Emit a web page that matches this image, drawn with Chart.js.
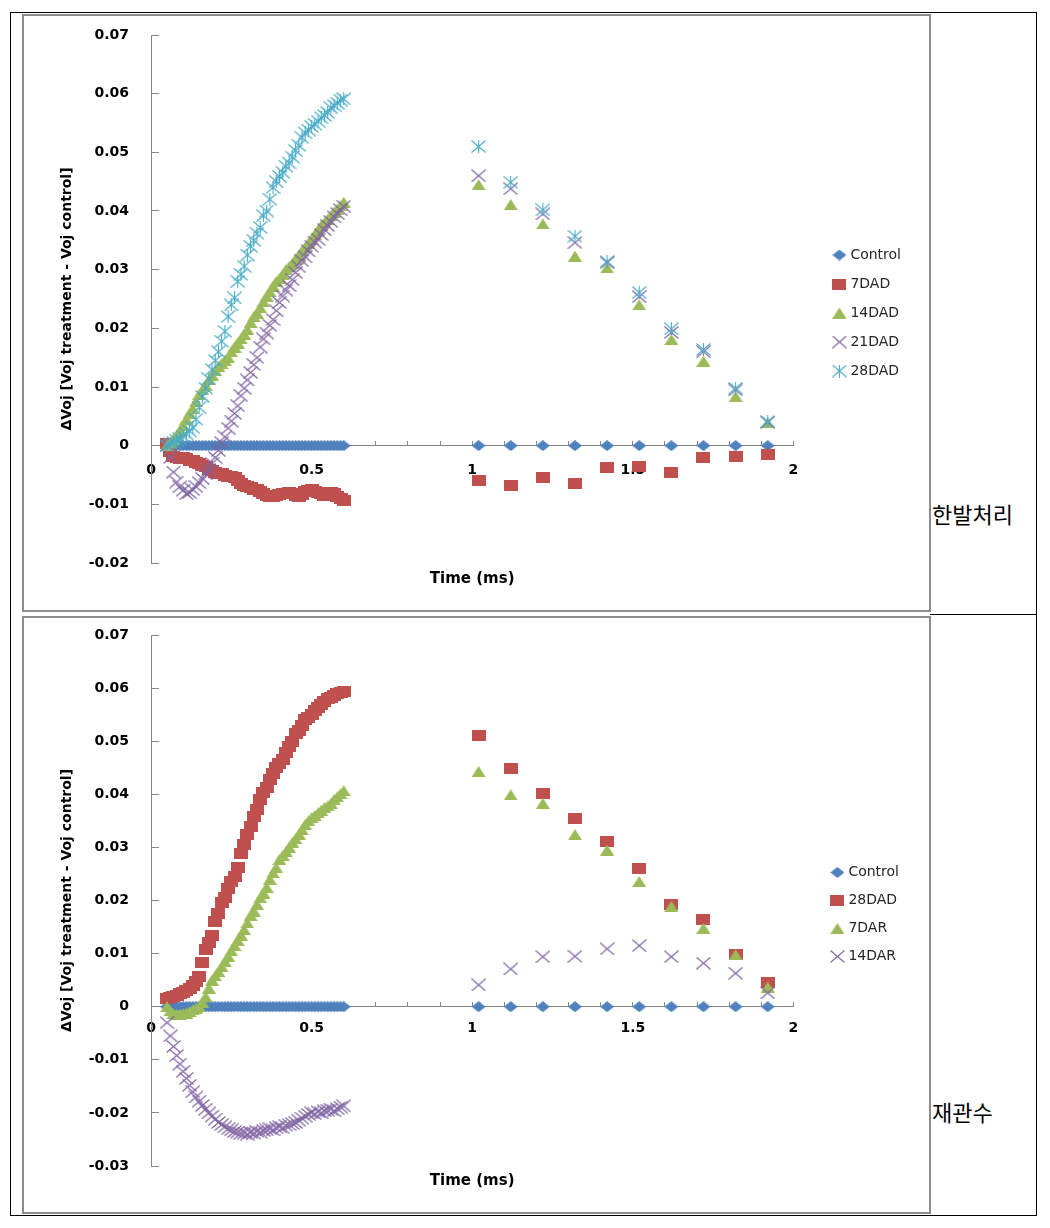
<!DOCTYPE html>
<html>
<head>
<meta charset="utf-8">
<script src="https://cdn.jsdelivr.net/npm/chart.js@4.4.1/dist/chart.umd.min.js"></script>
<style>
  html, body { margin: 0; padding: 0; background: #fff; }
  body { width: 1050px; height: 1228px; position: relative; overflow: hidden; }
  .abs { position: absolute; }
  .frame { position: absolute; border: 2px solid #8c8c8c; box-sizing: border-box; }
  .kor { position: absolute; font-family: "Noto Sans CJK KR", sans-serif; font-size: 22px; line-height: 22px; color: #000; white-space: nowrap; }
</style>
</head>
<body>
<div class="abs" style="left:10px;top:12px;width:1027px;height:1204px;border:1px solid #000;box-sizing:border-box;"></div>
<div class="frame" style="left:22px;top:14px;width:909px;height:598px;"></div>
<div class="frame" style="left:22px;top:616px;width:909px;height:598px;"></div>
<div class="abs" style="left:930px;top:614px;width:106px;height:1px;background:#000;"></div>
<canvas id="c1" class="abs" width="904" height="594" style="left:24px;top:16px;"></canvas>
<canvas id="c2" class="abs" width="904" height="593" style="left:24px;top:618px;"></canvas>
<div class="kor" style="left:932px;top:502px;">한발처리</div>
<div class="kor" style="left:932px;top:1100px;">재관수</div>
<script>
// ---------- time axis (ms) ----------
const timeA = [0.05,0.06,0.07,0.08,0.09,0.10,0.11,0.12,0.13,0.14,0.15,0.16,0.17,0.18,0.19,0.20,0.21,0.22,0.23,0.24,0.25,0.26,0.27,0.28,0.29,0.30,0.31,0.32,0.33,0.34,0.35,0.36,0.37,0.38,0.39,0.40,0.41,0.42,0.43,0.44,0.45,0.46,0.47,0.48,0.49,0.50,0.51,0.52,0.53,0.54,0.55,0.56,0.57,0.58,0.59,0.60];
const timeB = [1.02,1.12,1.22,1.32,1.42,1.52,1.62,1.72,1.82,1.92];

// ---------- chart 1 (한발처리) ----------
const labels1 = ["Control","7DAD","14DAD","21DAD","28DAD"];
const c1ControlA = [0,0,0,0,0,0,0,0,0,0,0,0,0,0,0,0,0,0,0,0,0,0,0,0,0,0,0,0,0,0,0,0,0,0,0,0,0,0,0,0,0,0,0,0,0,0,0,0,0,0,0,0,0,0,0,0];
const c1ControlB = [0,0,0,0,0,0,0,0,0,0];
const c1_7DAD_A = [0.0003,-0.0010,-0.0018,-0.0020,-0.0022,-0.0020,-0.0022,-0.0025,-0.0025,-0.0028,
  -0.0030,-0.0033,-0.0036,-0.0040,-0.0042,-0.0045,-0.0047,-0.0048,-0.0050,-0.0052,
  -0.0053,-0.0055,-0.0060,-0.0065,-0.0068,-0.0070,-0.0072,-0.0074,-0.0075,-0.0078,
  -0.0082,-0.0085,-0.0086,-0.0087,-0.0085,-0.0083,-0.0082,-0.0082,-0.0080,-0.0082,
  -0.0085,-0.0086,-0.0083,-0.0078,-0.0076,-0.0075,-0.0078,-0.0080,-0.0082,-0.0085,
  -0.0082,-0.0080,-0.0082,-0.0086,-0.0090,-0.0093];
const c1_7DAD_B = [-0.0059,-0.0068,-0.0055,-0.0065,-0.0038,-0.0035,-0.0045,-0.0020,-0.0018,-0.0015];
const c1_14DAD_A = [0.0000,0.0005,0.0010,0.0018,0.0025,0.0035,0.0045,0.0055,0.0063,0.0075,
  0.0087,0.0095,0.0103,0.0112,0.0120,0.0128,0.0135,0.0140,0.0145,0.0150,
  0.0160,0.0168,0.0175,0.0182,0.0190,0.0198,0.0210,0.0220,0.0226,0.0235,
  0.0245,0.0255,0.0262,0.0272,0.0280,0.0285,0.0292,0.0300,0.0305,0.0310,
  0.0318,0.0325,0.0332,0.0338,0.0345,0.0352,0.0360,0.0367,0.0375,0.0380,
  0.0386,0.0392,0.0398,0.0403,0.0409,0.0415];
const c1_14DAD_B = [0.0445,0.0411,0.0378,0.0323,0.0303,0.0240,0.0181,0.0144,0.0084,0.0039];
const c1_21DAD_A = [0.0000,-0.0020,-0.0045,-0.0062,-0.0070,-0.0076,-0.0082,-0.0080,-0.0075,-0.0070,
  -0.0063,-0.0056,-0.0048,-0.0040,-0.0030,-0.0020,-0.0008,0.0005,0.0015,0.0030,
  0.0042,0.0055,0.0068,0.0085,0.0098,0.0112,0.0125,0.0138,0.0150,0.0168,
  0.0182,0.0192,0.0205,0.0215,0.0230,0.0244,0.0255,0.0265,0.0273,0.0283,
  0.0295,0.0305,0.0315,0.0322,0.0332,0.0340,0.0347,0.0352,0.0360,0.0368,
  0.0375,0.0382,0.0390,0.0396,0.0402,0.0408];
const c1_21DAD_B = [0.0460,0.0438,0.0395,0.0346,0.0312,0.0254,0.0193,0.0160,0.0095,0.0040];
const c1_28DAD_A = [0.0000,0.0003,0.0006,0.0009,0.0012,0.0016,0.0020,0.0025,0.0031,0.0045,
  0.0065,0.0084,0.0098,0.0114,0.0130,0.0145,0.0160,0.0178,0.0195,0.0220,
  0.0240,0.0252,0.0280,0.0292,0.0306,0.0325,0.0340,0.0350,0.0362,0.0372,
  0.0392,0.0400,0.0420,0.0440,0.0450,0.0459,0.0466,0.0476,0.0482,0.0492,
  0.0503,0.0512,0.0525,0.0533,0.0538,0.0544,0.0548,0.0553,0.0559,0.0563,
  0.0568,0.0576,0.0580,0.0584,0.0589,0.0591];
const c1_28DAD_B = [0.0510,0.0449,0.0402,0.0357,0.0314,0.0261,0.0199,0.0164,0.0098,0.0041];

// ---------- chart 2 (재관수) ----------
const labels2 = ["Control","28DAD","7DAR","14DAR"];
const c2ControlA = [0,0,0,0,0,0,0,0,0,0,0,0,0,0,0,0,0,0,0,0,0,0,0,0,0,0,0,0,0,0,0,0,0,0,0,0,0,0,0,0,0,0,0,0,0,0,0,0,0,0,0,0,0,0,0,0];
const c2ControlB = [0,0,0,0,0,0,0,0,0,0];
const c2_28DAD_A = [0.0015,0.0018,0.0020,0.0022,0.0024,0.0027,0.0030,0.0035,0.0040,0.0048,
  0.0057,0.0083,0.0107,0.0120,0.0135,0.0160,0.0175,0.0196,0.0205,0.0222,
  0.0235,0.0245,0.0262,0.0289,0.0305,0.0325,0.0340,0.0358,0.0372,0.0390,
  0.0403,0.0412,0.0428,0.0440,0.0450,0.0458,0.0465,0.0478,0.0490,0.0500,
  0.0515,0.0520,0.0530,0.0540,0.0545,0.0550,0.0557,0.0563,0.0570,0.0575,
  0.0580,0.0583,0.0587,0.0590,0.0591,0.0593];
const c2_28DAD_B = [0.0510,0.0449,0.0401,0.0355,0.0312,0.0260,0.0193,0.0164,0.0099,0.0045];
const c2_7DAR_A = [0.0000,-0.0008,-0.0013,-0.0015,-0.0014,-0.0013,-0.0012,-0.0009,-0.0006,-0.0003,
  0.0000,0.0008,0.0019,0.0035,0.0050,0.0058,0.0066,0.0075,0.0085,0.0095,
  0.0105,0.0115,0.0125,0.0135,0.0145,0.0158,0.0172,0.0180,0.0193,0.0205,
  0.0214,0.0225,0.0240,0.0252,0.0262,0.0277,0.0285,0.0292,0.0300,0.0309,
  0.0316,0.0325,0.0333,0.0343,0.0350,0.0356,0.0360,0.0365,0.0370,0.0375,
  0.0378,0.0383,0.0390,0.0395,0.0401,0.0407];
const c2_7DAR_B = [0.0443,0.0399,0.0383,0.0324,0.0295,0.0236,0.0189,0.0148,0.0098,0.0037];
const c2_14DAR_A = [-0.0030,-0.0055,-0.0075,-0.0092,-0.0108,-0.0122,-0.0135,-0.0148,-0.0160,-0.0170,
  -0.0178,-0.0186,-0.0193,-0.0200,-0.0206,-0.0212,-0.0218,-0.0222,-0.0226,-0.0230,
  -0.0232,-0.0235,-0.0236,-0.0238,-0.0238,-0.0240,-0.0237,-0.0238,-0.0235,-0.0236,
  -0.0233,-0.0232,-0.0230,-0.0232,-0.0228,-0.0226,-0.0228,-0.0224,-0.0222,-0.0220,
  -0.0218,-0.0214,-0.0210,-0.0206,-0.0203,-0.0200,-0.0202,-0.0198,-0.0200,-0.0196,
  -0.0195,-0.0193,-0.0196,-0.0192,-0.0189,-0.0187];
const c2_14DAR_B = [0.0041,0.0071,0.0094,0.0095,0.0109,0.0115,0.0094,0.0082,0.0063,0.0026];

// ---------- axis settings ----------
const xMin = 0, xMax = 2, xStep = 0.1;
const yMax = 0.07, yStep = 0.01;
const y1Min = -0.02, y2Min = -0.03;
const yTitle = "ΔVoj [Voj treatment - Voj control]";
const xTitle = "Time (ms)";

// ---------- styling ----------
const BLUE = '#4F81BD', RED = '#C0504D', GREEN = '#9BBB59', PURPLE = '#8064A2', CYAN = '#4BACC6';
const AXIS = '#868686';

function marker(kind, color) {
  const c = document.createElement('canvas');
  let w = 14, h = 11;
  if (kind === 'x' || kind === 'ast') { w = 15; h = 13; }
  c.width = w; c.height = h;
  const g = c.getContext('2d');
  g.fillStyle = color; g.strokeStyle = color; g.lineWidth = 1.1;
  if (kind === 'diamond') {
    g.beginPath(); g.moveTo(w/2, 0); g.lineTo(w, h/2); g.lineTo(w/2, h); g.lineTo(0, h/2); g.closePath(); g.fill();
  } else if (kind === 'square') {
    g.fillRect(0, 0, w, h);
  } else if (kind === 'triangle') {
    g.beginPath(); g.moveTo(w/2, 0); g.lineTo(w, h); g.lineTo(0, h); g.closePath(); g.fill();
  } else {
    g.beginPath();
    g.moveTo(0.5, 0.5); g.lineTo(w-0.5, h-0.5);
    g.moveTo(w-0.5, 0.5); g.lineTo(0.5, h-0.5);
    if (kind === 'ast') { g.moveTo(w/2, 0); g.lineTo(w/2, h); }
    g.stroke();
  }
  return c;
}

function pts(xs, ys) { return xs.map((x, i) => ({x: x, y: ys[i]})); }

function ds(label, a, b, style, order) {
  return {
    label: label,
    data: pts(timeA, a).concat(pts(timeB, b)),
    pointStyle: style,
    pointRadius: 6,
    pointHoverRadius: 6,
    showLine: false,
    order: order,
    backgroundColor: 'rgba(0,0,0,0)',
    borderColor: 'rgba(0,0,0,0)'
  };
}

Chart.defaults.font.family = "'DejaVu Sans', Verdana, sans-serif";

function yTick(v) { return Math.abs(v) < 1e-9 ? '0' : (Math.round(v * 100) / 100).toFixed(2); }
function xTick(v) { const h = Math.round(v * 2) / 2; return Math.abs(v - h) < 1e-6 ? String(h) : ''; }

function build(canvasId, datasets, yMin, p) {
  return new Chart(document.getElementById(canvasId), {
    type: 'scatter',
    data: { datasets: datasets },
    options: {
      responsive: false, animation: false, devicePixelRatio: 1,
      events: [],
      layout: { padding: { left: 0, right: p.padR, top: 0, bottom: 0 } },
      plugins: {
        legend: {
          position: 'right', align: 'center',
          labels: {
            usePointStyle: true, boxWidth: 8, boxHeight: 8, padding: p.legPad,
            color: '#262626', font: { size: 14 },
            sort: (a, b) => a.datasetIndex - b.datasetIndex
          }
        },
        tooltip: { enabled: false }
      },
      scales: {
        x: {
          type: 'linear', position: { y: 0 }, min: xMin, max: xMax,
          ticks: { stepSize: xStep, autoSkip: false, maxRotation: 0, padding: p.xTickPad, color: '#000', font: { size: 14, weight: 'bold' }, callback: xTick },
          grid: { drawOnChartArea: false, tickLength: -5, tickColor: AXIS, color: AXIS },
          border: { color: AXIS, width: 1 },
          title: { display: true, text: xTitle, color: '#000', font: { size: 15, weight: 'bold' }, padding: { top: 0, bottom: p.xTitlePad } },
          afterFit: s => { s.height = p.xH; s.paddingLeft = 0; s.paddingRight = 0; }
        },
        y: {
          type: 'linear', position: 'left', min: yMin, max: yMax,
          ticks: { stepSize: yStep, padding: 30, color: '#000', font: { size: 14, weight: 'bold' }, callback: yTick },
          grid: { drawOnChartArea: false, tickLength: -8, tickColor: AXIS, color: AXIS },
          border: { color: AXIS, width: 1 },
          title: { display: true, text: yTitle, color: '#000', font: { size: 14, weight: 'bold' }, padding: { top: 34.6, bottom: 0 } },
          afterFit: s => { s.width = 127; s.paddingTop = p.areaTop; s.paddingBottom = p.areaBottom; }
        },
        gap: {
          type: 'linear', position: 'right', display: true,
          ticks: { display: false }, grid: { display: false }, border: { display: false },
          afterFit: s => { s.width = p.gap; s.paddingTop = 0; s.paddingBottom = 0; }
        }
      }
    }
  });
}

const ds1 = [
  ds(labels1[0], c1ControlA, c1ControlB, marker('diamond', BLUE), 5),
  ds(labels1[1], c1_7DAD_A, c1_7DAD_B, marker('square', RED), 4),
  ds(labels1[2], c1_14DAD_A, c1_14DAD_B, marker('triangle', GREEN), 3),
  ds(labels1[3], c1_21DAD_A, c1_21DAD_B, marker('x', PURPLE), 2),
  ds(labels1[4], c1_28DAD_A, c1_28DAD_B, marker('ast', CYAN), 1)
];
const ds2 = [
  ds(labels2[0], c2ControlA, c2ControlB, marker('diamond', BLUE), 4),
  ds(labels2[1], c2_28DAD_A, c2_28DAD_B, marker('square', RED), 3),
  ds(labels2[2], c2_7DAR_A, c2_7DAR_B, marker('triangle', GREEN), 2),
  ds(labels2[3], c2_14DAR_A, c2_14DAR_B, marker('x', PURPLE), 1)
];

build('c1', ds1, y1Min, { padR: 17, areaTop: 19, areaBottom: 47, legPad: 15, xTickPad: 21, xTitlePad: -95, xH: 47, gap: 27 });
build('c2', ds2, y2Min, { padR: 19, areaTop: 17, areaBottom: 45, legPad: 14, xTickPad: 18, xTitlePad: -138, xH: 45, gap: 26 });
</script>
</body>
</html>
